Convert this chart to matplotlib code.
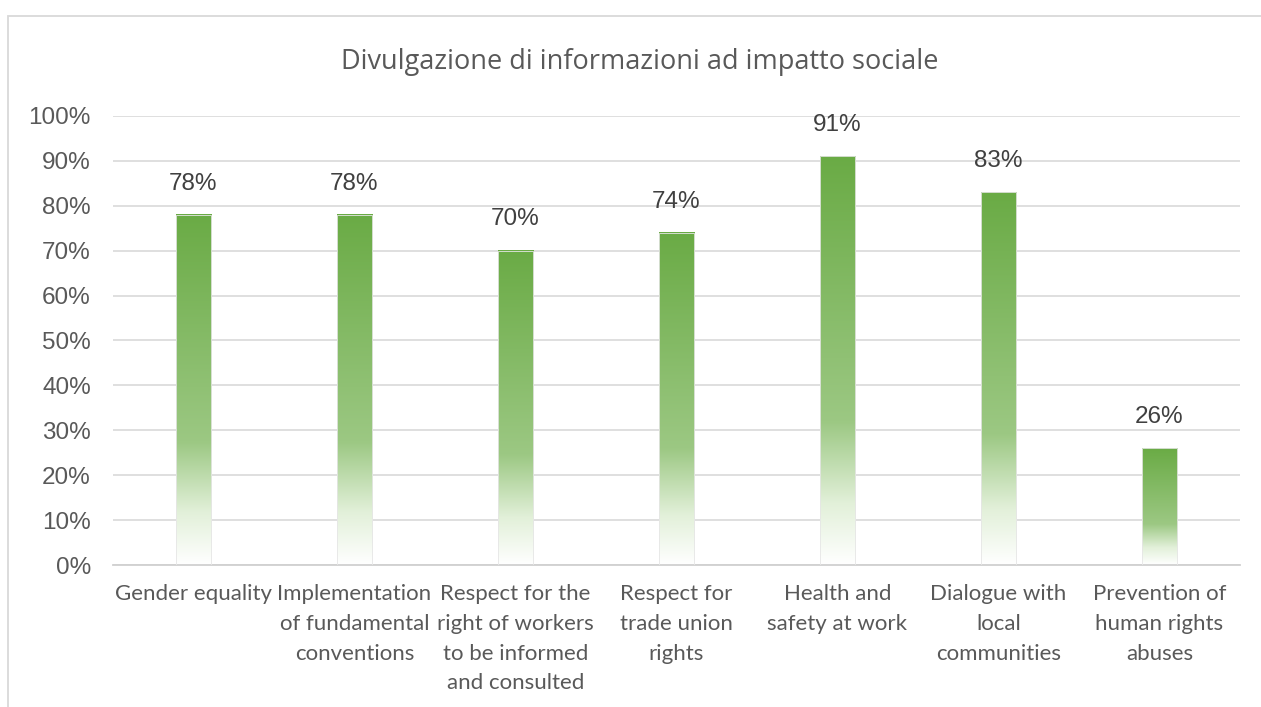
import matplotlib.pyplot as plt
import numpy as np
from matplotlib.colors import LinearSegmentedColormap
from matplotlib.patches import Rectangle

categories = ['Gender equality', 'Implementation\nof fundamental\nconventions',
              'Respect for the\nright of workers\nto be informed\nand consulted',
              'Respect for\ntrade union\nrights', 'Health and\nsafety at work',
              'Dialogue with\nlocal\ncommunities', 'Prevention of\nhuman rights\nabuses']
values = [0.78, 0.78, 0.70, 0.74, 0.91, 0.83, 0.26]
labels = ['78%', '78%', '70%', '74%', '91%', '83%', '26%']
yticks = np.arange(0, 1.01, 0.1)

fig = plt.figure(figsize=(12.61, 7.07), dpi=100)
ax = fig.add_axes([0.0896, 0.2008, 0.8937, 0.6352])

# outer chart frame
fig.patches.append(Rectangle((8 / 1261, -0.05), 1.1, 1 - 16 / 707 + 0.05,
                             transform=fig.transFigure, fill=False,
                             edgecolor='#d9d9d9', linewidth=1.3))

x = np.arange(len(values))
width = 0.22
cmap = LinearSegmentedColormap.from_list('fade', [
    (0.0, '#ffffff'), (0.15, '#e2f0d9'), (0.35, '#9cc883'), (1.0, '#6aab45')])
grad = np.linspace(0, 1, 256).reshape(-1, 1)

for xi, v, lab in zip(x, values, labels):
    # gradient bar: stretch the fade over the bar's own height
    ax.imshow(grad, extent=(xi - width / 2, xi + width / 2, 0, v), origin='lower',
              cmap=cmap, aspect='auto', zorder=2, interpolation='bilinear')
    ax.add_patch(Rectangle((xi - width / 2, 0), width, v, fill=False,
                           edgecolor='#e6e6e6', linewidth=0.6, zorder=3))
    ax.text(xi, v + 0.045, lab, ha='center', va='bottom', fontsize=17.5,
            color='#404040', family='Liberation Sans')

ax.set_xlim(-0.5, len(values) - 0.5)
ax.set_ylim(0, 1)
ax.set_yticks(yticks)
ax.set_yticklabels([f'{int(round(t * 100))}%' for t in yticks],
                   fontsize=17.5, color='#595959', family='Liberation Sans')
ax.set_xticks(x)
ax.set_xticklabels(categories, fontsize=16, color='#595959', family='Lato',
                   linespacing=1.6, va='top')
ax.tick_params(axis='both', length=0)
ax.tick_params(axis='y', pad=16)
ax.tick_params(axis='x', pad=14)
ax.grid(axis='y', color='#d9d9d9', linewidth=1.2, zorder=0)
ax.set_axisbelow(True)
for s in ['top', 'right', 'left']:
    ax.spines[s].set_visible(False)
ax.spines['bottom'].set_color('#d0d0d0')
ax.spines['bottom'].set_linewidth(1.3)

fig.text(640 / 1261, 1 - 62 / 707, 'Divulgazione di informazioni ad impatto sociale',
         ha='center', va='center', fontsize=19.5, color='#595959',
         family='Open Sans')

fig.savefig('out.png', dpi=100)
